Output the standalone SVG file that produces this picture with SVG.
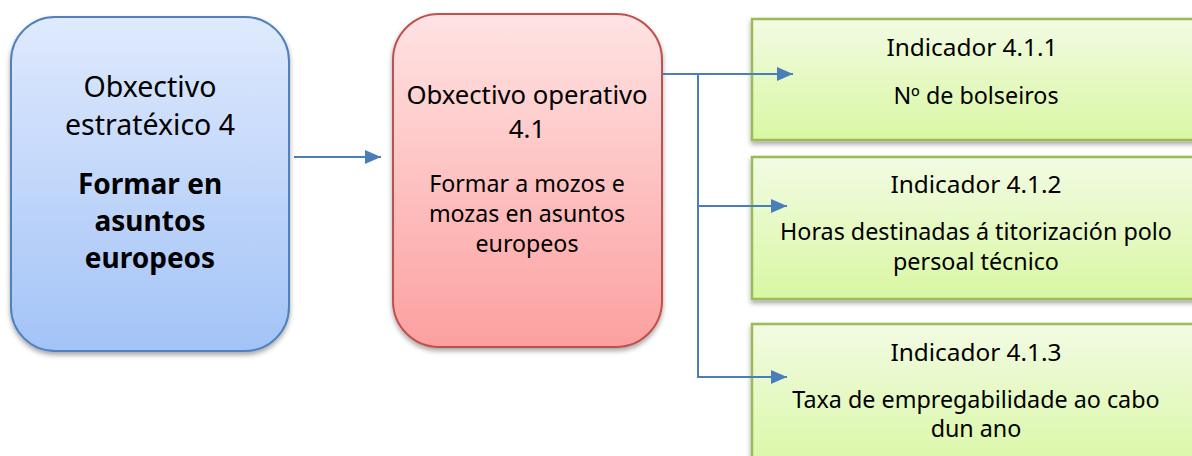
<svg xmlns="http://www.w3.org/2000/svg" width="1192" height="456" viewBox="0 0 1192 456">
<defs>
<linearGradient id="gBlue" x1="0" y1="0" x2="0" y2="1"><stop offset="0" stop-color="#dfeafd"/><stop offset="1" stop-color="#a3c3f7"/></linearGradient>
<linearGradient id="gRed" x1="0" y1="0" x2="0" y2="1"><stop offset="0" stop-color="#ffe3e3"/><stop offset="1" stop-color="#fca0a0"/></linearGradient>
<linearGradient id="gGreen" x1="0" y1="0" x2="0" y2="1"><stop offset="0" stop-color="#f2fbe3"/><stop offset="1" stop-color="#d9f7a3"/></linearGradient>
<filter id="sh" x="-10%" y="-10%" width="120%" height="125%"><feDropShadow dx="0" dy="3" stdDeviation="2.5" flood-color="#000" flood-opacity="0.35"/></filter>
<marker id="ah" markerWidth="16" markerHeight="14" refX="16" refY="7" orient="auto" markerUnits="userSpaceOnUse"><path d="M0,0 L16,7 L0,14 Z" fill="#4a7ebb"/></marker>
</defs>
<style>
text{font-family:"Noto Sans","DejaVu Sans",sans-serif;fill:#000;text-anchor:middle}
.b{stroke:#4f81bd;stroke-width:2;fill:url(#gBlue)}
.r{stroke:#c0504d;stroke-width:2;fill:url(#gRed)}
.g{stroke:#9bbb59;stroke-width:2.5;fill:url(#gGreen)}
.c{fill:none;stroke:#4a7ebb;stroke-width:2}
</style>
<g id="n1">
<rect class="b" x="11" y="17" width="278" height="334" rx="44" filter="url(#sh)"/>
<text x="150" y="97" font-size="28.5">Obxectivo</text>
<text x="150" y="135" font-size="28.5">estratéxico 4</text>
<text x="150" y="194" font-size="28" font-weight="bold">Formar en</text>
<text x="150" y="231" font-size="28" font-weight="bold">asuntos</text>
<text x="150" y="268" font-size="28" font-weight="bold">europeos</text>
</g>
<g id="n2">
<rect class="r" x="393" y="14" width="269" height="333" rx="46" filter="url(#sh)"/>
<text x="527" y="104" font-size="25.7">Obxectivo operativo</text>
<text x="527" y="138" font-size="25.7">4.1</text>
<text x="527" y="192" font-size="23.2">Formar a mozos e</text>
<text x="527" y="222" font-size="23.2">mozas en asuntos</text>
<text x="527" y="252" font-size="23.2">europeos</text>
</g>
<g id="n3">
<rect class="g" x="752" y="19" width="450" height="121" filter="url(#sh)"/>
<text x="972" y="56" font-size="24.4">Indicador 4.1.1</text>
<text x="976" y="104" font-size="23.3">Nº de bolseiros</text>
</g>
<g id="n4">
<rect class="g" x="752" y="157" width="450" height="142" filter="url(#sh)"/>
<text x="976" y="193" font-size="24.4">Indicador 4.1.2</text>
<text x="976" y="240" font-size="23.3">Horas destinadas á titorización polo</text>
<text x="976" y="270" font-size="23.3">persoal técnico</text>
</g>
<g id="n5">
<rect class="g" x="752" y="324" width="450" height="150" filter="url(#sh)"/>
<text x="976" y="361" font-size="24.4">Indicador 4.1.3</text>
<text x="976" y="408" font-size="23.3">Taxa de empregabilidade ao cabo</text>
<text x="976" y="437" font-size="23.3">dun ano</text>
</g>
<g id="connectors">
<path class="c" d="M294,157 H381" marker-end="url(#ah)"/>
<path class="c" d="M662,74 H793" marker-end="url(#ah)"/>
<path class="c" d="M698,74 V377 H787" marker-end="url(#ah)"/>
<path class="c" d="M698,206 H787" marker-end="url(#ah)"/>
</g>
</svg>
